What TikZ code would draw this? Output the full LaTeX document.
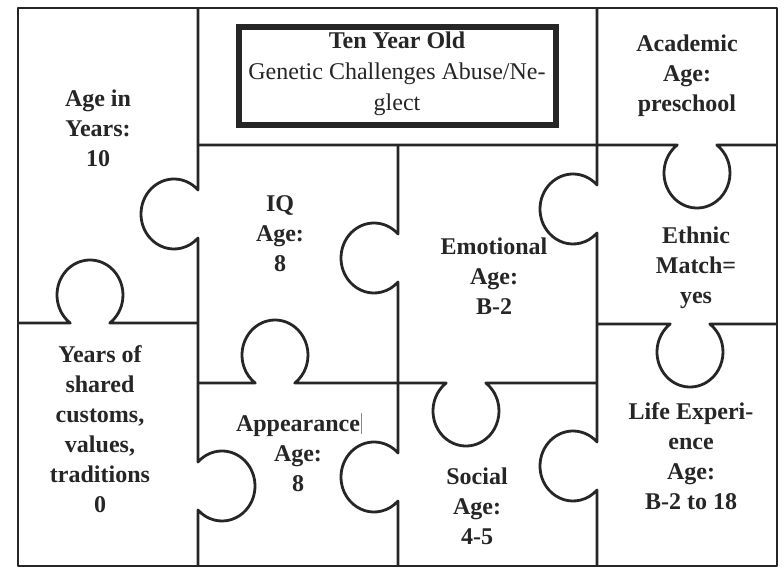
\documentclass[tikz,border=0pt]{standalone}
\usepackage{fontspec}
\setmainfont{Liberation Serif}
\def\ka{33}\def\kb{35}\def\dv{24}\def\dh{28}
\newcommand\knobL[2]{-- (#1,{#2-\hv}) arc[start angle={-\tv}, end angle={\tv-360}, x radius=\ka, y radius=\kb]}
\newcommand\knobR[2]{-- (#1,{#2-\hv}) arc[start angle={180+\tv}, end angle={540-\tv}, x radius=\ka, y radius=\kb]}
\newcommand\knobU[2]{-- ({#1-\hh},#2) arc[start angle={180-\th}, end angle={360+\th}, x radius=\ka, y radius=\kb]}
\newcommand\knobD[2]{-- ({#1-\hh},#2) arc[start angle={180+\th}, end angle={-\th}, x radius=\ka, y radius=\kb]}
\tikzset{
  grid/.style={line width=2.8pt, line join=round, black!85},
  titlebox/.style={line width=6pt, black!85},
  cell/.style={align=center, font=\fontsize{24}{30}\selectfont\bfseries, inner sep=0pt, anchor=north, text=black!85},
  ttl/.style={align=center, font=\fontsize{24}{31}\selectfont, inner sep=0pt, anchor=north, text=black!85}
}
\begin{document}
\begin{tikzpicture}[x=1pt,y=-1pt]
\pgfmathsetmacro\tv{acos(\dv/\ka)}
\pgfmathsetmacro\hv{\kb*sin(\tv)}
\pgfmathsetmacro\th{asin(\dh/\kb)}
\pgfmathsetmacro\hh{\ka*cos(\th)}
\fill[white] (0,0) rectangle (784,568);
\useasboundingbox (0,0) rectangle (784,568);
% outer frame
\draw[grid] (18,8) rectangle (777,566);
% vertical lines
\draw[grid] (198,8) \knobL{198}{214} \knobR{198}{486} -- (198,566);
\draw[grid] (398,145) \knobL{398}{258} \knobL{398}{477} -- (398,566);
\draw[grid] (597,8) \knobL{597}{209} \knobL{597}{466} -- (597,566);
% horizontal lines
\draw[grid] (18,323) \knobU{90}{323} -- (198,323);
\draw[grid] (198,383) \knobU{275}{383} \knobD{466}{383} -- (597,383);
\draw[grid] (198,145) \knobD{697}{145} -- (777,145);
\draw[grid] (597,324) \knobD{690}{324} -- (777,324);
% title box
\draw[titlebox] (239,27) rectangle (556,125);
\node[ttl] (title) at (397,32) {\textbf{Ten Year Old}\\Genetic Challenges Abuse/Ne-\\glect};
% cell texts
\node[cell] (age) at (98,90) {Age in\\Years:\\10};
\node[cell] (iq) at (280,195) {IQ\\Age:\\8};
\node[cell] (emo) at (494,238) {Emotional\\Age:\\B-2};
\node[cell] (acad) at (687,35) {Academic\\Age:\\preschool};
\node[cell] (eth) at (696,227) {Ethnic\\Match=\\yes};
\node[cell] (shared) at (100,345) {Years of\\shared\\customs,\\values,\\traditions\\0};
\node[cell] (app) at (298,413) {Appearance\rlap{\hspace{1pt}\textcolor{black!45}{\rule[-3pt]{0.8pt}{21pt}}}\\Age:\\8};
\node[cell] (soc) at (477,468) {Social\\Age:\\4-5};
\node[cell] (life) at (691,402) {Life Experi-\\ence\\Age:\\B-2 to 18};
\end{tikzpicture}
\end{document}
